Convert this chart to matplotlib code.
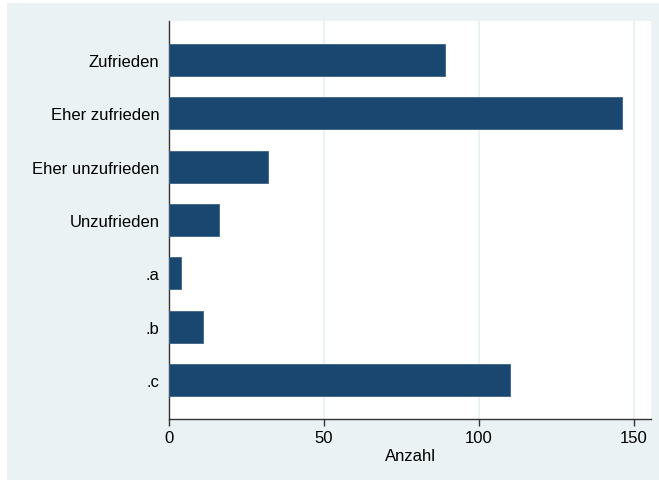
import matplotlib
matplotlib.use("Agg")
import matplotlib.pyplot as plt
from matplotlib.patches import Rectangle

categories = ["Zufrieden", "Eher zufrieden", "Eher unzufrieden", "Unzufrieden", ".a", ".b", ".c"]
counts = [89, 146, 32, 16, 4, 11, 110]
xticks = [0, 50, 100, 150]
xlabel = "Anzahl"

plt.rcParams['font.family'] = ['Liberation Sans', 'DejaVu Sans']

fig = plt.figure(figsize=(6.59, 4.81), dpi=100)
fig.patch.set_facecolor("white")
bg = Rectangle((7/659, 0), 1 - 7/659, 1 - 4/481, transform=fig.transFigure,
               facecolor="#EAF2F3", edgecolor="none", zorder=-10)
fig.patches.append(bg)

ax = fig.add_axes([169/659, 1 - 420/481, (651 - 169)/659, (420 - 22)/481])
ax.set_zorder(1)
ax.set_facecolor("white")
ypos = list(range(len(categories)))
ax.barh(ypos, counts, height=0.6, color="#1A476F", edgecolor="#3d6387", linewidth=0.6, zorder=3)
ax.set_ylim(len(categories) - 1 + 0.73, -0.73)
ax.set_xlim(0, 155.5)
ax.set_yticks(ypos)
ax.set_yticklabels(categories, fontsize=12)
ax.tick_params(axis='y', length=0, pad=7)
ax.set_xticks(xticks)
ax.set_xticklabels([str(t) for t in xticks], fontsize=12)
ax.tick_params(axis='x', length=5, width=1, color="#333333", pad=3)
for t in xticks[1:]:
    ax.axvline(t, color="#EAF2F3", linewidth=1.5, zorder=1)
for s in ["top", "right"]:
    ax.spines[s].set_visible(False)
for s in ["left", "bottom"]:
    ax.spines[s].set_color("#333333")
    ax.spines[s].set_linewidth(1)
ax.set_xlabel(xlabel, fontsize=12, labelpad=2)

fig.savefig("out.png", dpi=100, facecolor=fig.get_facecolor())
